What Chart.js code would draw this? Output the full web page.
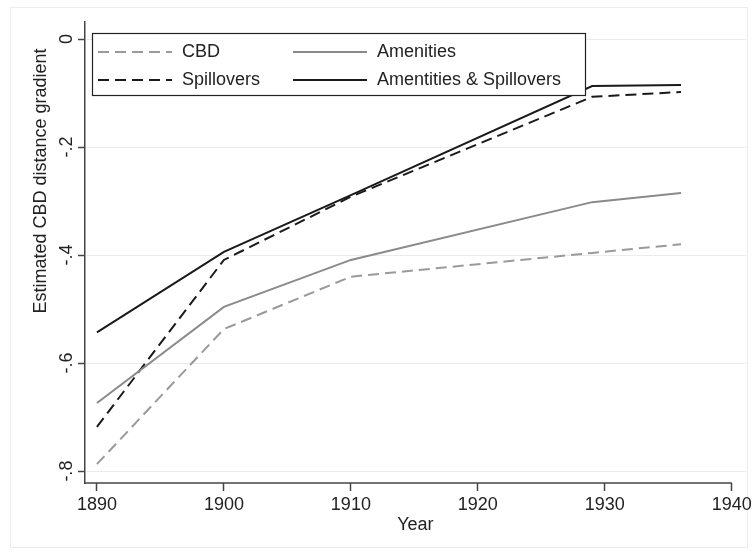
<!DOCTYPE html>
<html lang="en">
<head>
  <meta charset="UTF-8" />
  <title>Estimated CBD distance gradient</title>
  <script src="https://cdn.jsdelivr.net/npm/chart.js"></script>
  <style>
    body {
      margin: 0;
      padding: 0;
      background: #ffffff;
    }
    canvas {
      display: block;
    }
  </style>
</head>
<body>
  <canvas id="gradientChart" width="755" height="555"></canvas>

  <script>
    // values
    const years = [1890, 1900, 1910, 1929, 1936];
    const cbd = [-0.787, -0.537, -0.44, -0.396, -0.38];
    const amenities = [-0.674, -0.496, -0.409, -0.302, -0.285];
    const spillovers = [-0.718, -0.409, -0.292, -0.107, -0.098];
    const amenSpill = [-0.543, -0.394, -0.289, -0.087, -0.085];
    const seriesLabels = ['CBD', 'Amenities', 'Spillovers', 'Amentities & Spillovers'];
    const xTicks = [1890, 1900, 1910, 1920, 1930, 1940];
    const yTicks = [-0.8, -0.6, -0.4, -0.2, 0];
    const yTickLabels = ['-.8', '-.6', '-.4', '-.2', '0'];

    const FONT = '"Liberation Sans", Arial, sans-serif';
    const AXIS = '#444444';

    function pts(vals) {
      return years.map((y, i) => ({ x: y, y: vals[i] }));
    }

    const stataLook = {
      id: 'stataLook',
      beforeDraw(chart) {
        const ctx = chart.ctx;
        ctx.save();
        ctx.fillStyle = '#ffffff';
        ctx.fillRect(0, 0, chart.width, chart.height);
        ctx.strokeStyle = '#ececec';
        ctx.lineWidth = 1;
        ctx.strokeRect(10.5, 7.5, 737, 540);
        ctx.restore();
      },
      afterDraw(chart) {
        const ctx = chart.ctx;
        const xs = chart.scales.x;
        const ys = chart.scales.y;
        const area = chart.chartArea;
        ctx.save();

        // x axis line, stops at the last tick
        ctx.strokeStyle = AXIS;
        ctx.lineWidth = 1.5;
        ctx.beginPath();
        ctx.moveTo(area.left, area.bottom);
        ctx.lineTo(xs.getPixelForValue(xTicks[xTicks.length - 1]), area.bottom);
        ctx.stroke();

        // rotated y tick labels
        ctx.fillStyle = '#222222';
        ctx.font = '18px ' + FONT;
        ctx.textAlign = 'center';
        ctx.textBaseline = 'middle';
        yTicks.forEach((v, i) => {
          ctx.save();
          ctx.translate(67, ys.getPixelForValue(v));
          ctx.rotate(-Math.PI / 2);
          ctx.fillText(yTickLabels[i], 0, 0);
          ctx.restore();
        });

        // y axis title
        ctx.save();
        ctx.translate(41, 181);
        ctx.rotate(-Math.PI / 2);
        ctx.fillText('Estimated CBD distance gradient', 0, 0);
        ctx.restore();

        // legend box
        const bx = 92, by = 33, bw = 493, bh = 62;
        ctx.fillStyle = '#ffffff';
        ctx.fillRect(bx, by, bw, bh);
        ctx.strokeStyle = '#222222';
        ctx.lineWidth = 1.2;
        ctx.strokeRect(bx + 0.5, by + 0.5, bw, bh);

        const cols = [98, 293];
        const rows = [52, 80];
        chart.data.datasets.forEach((ds, i) => {
          const cx = cols[i % 2];
          const cy = rows[Math.floor(i / 2)];
          ctx.strokeStyle = ds.borderColor;
          ctx.lineWidth = ds.borderWidth;
          ctx.setLineDash(ds.borderDash || []);
          ctx.beginPath();
          ctx.moveTo(cx, cy);
          ctx.lineTo(cx + 74, cy);
          ctx.stroke();
          ctx.setLineDash([]);
          ctx.fillStyle = '#222222';
          ctx.textAlign = 'left';
          ctx.fillText(ds.label, cx + 84, cy);
        });

        ctx.restore();
      }
    };

    new Chart(document.getElementById('gradientChart'), {
      type: 'line',
      data: {
        datasets: [
          { label: seriesLabels[0], data: pts(cbd), borderColor: '#9a9a9a', borderWidth: 2, borderDash: [11, 6] },
          { label: seriesLabels[1], data: pts(amenities), borderColor: '#8a8a8a', borderWidth: 2 },
          { label: seriesLabels[2], data: pts(spillovers), borderColor: '#1a1a1a', borderWidth: 2, borderDash: [11, 6] },
          { label: seriesLabels[3], data: pts(amenSpill), borderColor: '#1a1a1a', borderWidth: 2 }
        ]
      },
      options: {
        responsive: false,
        animation: false,
        layout: { padding: { left: 0, top: 22, right: 8, bottom: 0 } },
        elements: {
          point: { radius: 0 },
          line: { tension: 0, fill: false }
        },
        plugins: {
          legend: { display: false },
          tooltip: { enabled: false }
        },
        scales: {
          x: {
            type: 'linear',
            min: 1889.06,
            max: 1941.1,
            afterBuildTicks: s => { s.ticks = xTicks.map(v => ({ value: v })); },
            afterFit: s => { s.height = 72; },
            grid: { drawOnChartArea: false, drawTicks: true, tickLength: 8, tickColor: AXIS, tickWidth: 1.5 },
            border: { display: false },
            ticks: {
              autoSkip: false,
              maxRotation: 0,
              color: '#222222',
              padding: 3,
              font: { family: FONT, size: 18 },
              callback: v => String(v)
            },
            title: {
              display: true,
              text: 'Year',
              color: '#222222',
              font: { family: FONT, size: 18 },
              padding: { top: 0, bottom: 19 }
            }
          },
          y: {
            type: 'linear',
            min: -0.822,
            max: 0.0315,
            afterBuildTicks: s => { s.ticks = yTicks.map(v => ({ value: v })); },
            afterFit: s => { s.width = 85; },
            grid: { color: '#ebebeb', lineWidth: 1, drawTicks: true, tickLength: 7, tickColor: AXIS, tickWidth: 1.5 },
            border: { display: true, color: AXIS, width: 1.5 },
            ticks: { display: false }
          }
        }
      },
      plugins: [stataLook]
    });
  </script>
</body>
</html>
